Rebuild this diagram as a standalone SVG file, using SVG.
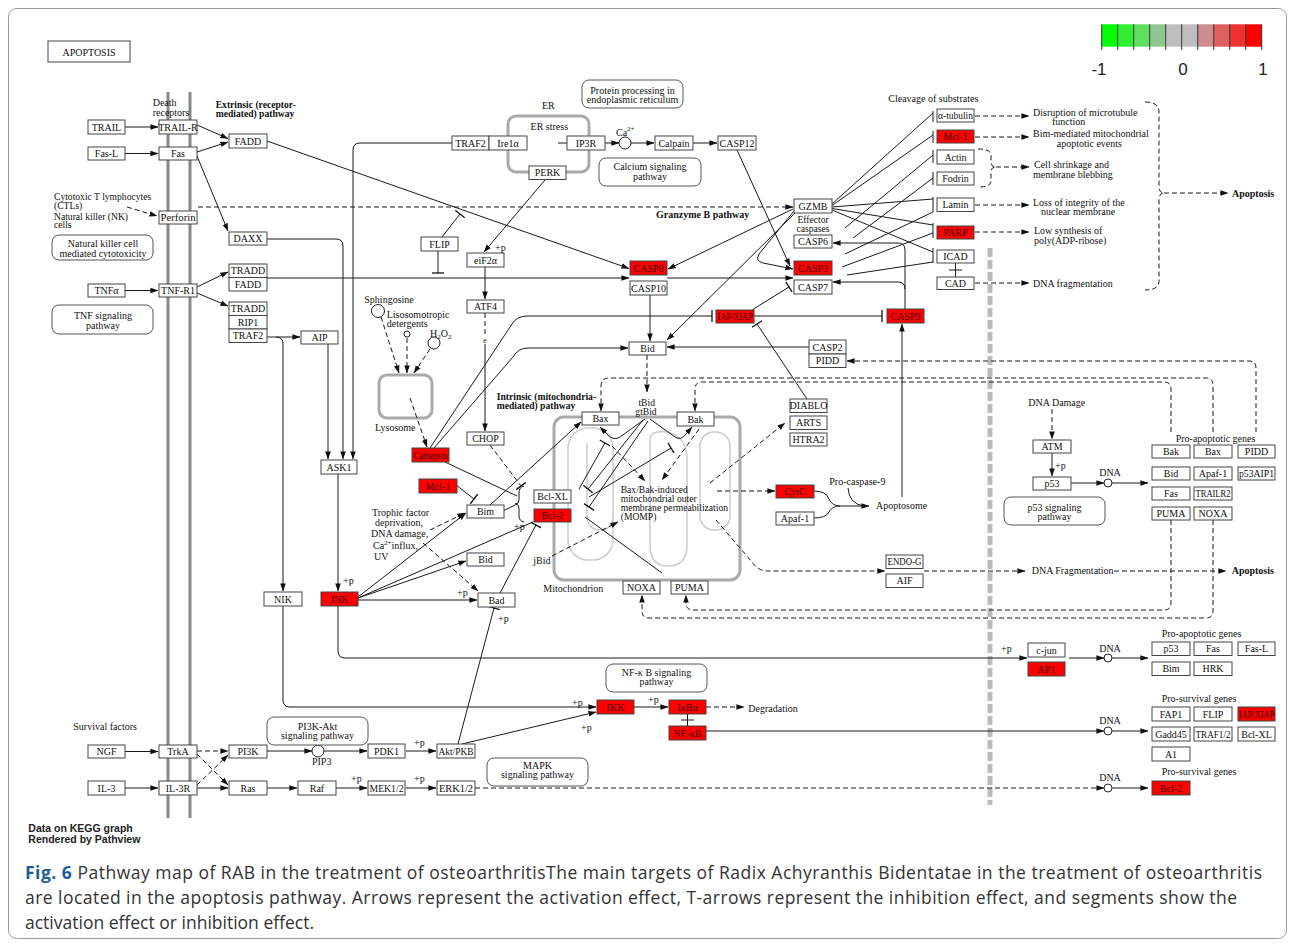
<svg xmlns="http://www.w3.org/2000/svg" width="1295" height="945" viewBox="0 0 1295 945">
<defs>
<marker id="ar" viewBox="0 0 10 10" refX="9.5" refY="5" markerWidth="8" markerHeight="8" markerUnits="userSpaceOnUse" orient="auto"><path d="M0,1.5 L10,5 L0,8.5z" fill="#111"/></marker>
<marker id="tb" viewBox="0 0 4 12" refX="2" refY="6" markerWidth="4" markerHeight="12" markerUnits="userSpaceOnUse" orient="auto"><path d="M2,0 V12" stroke="#111" stroke-width="1.3"/></marker>
</defs>
<style>
.n rect{fill:#fff;stroke:#444;stroke-width:1}
.n.r rect{fill:#ff0000}
.n text,.lb,.pw text{font-family:"Liberation Serif","Times New Roman",serif;font-size:10px;fill:#111}
.n text,.pw text,.mid{text-anchor:middle}
.n.r text{fill:#3a0000}
.c path{fill:none;stroke:#1a1a1a;stroke-width:1}
.c path.d{stroke-dasharray:5,3}
.c path.a{marker-end:url(#ar)}
.c path.t{marker-end:url(#tb)}
.pw rect{fill:#fff;stroke:#555;stroke-width:1}
.b{font-weight:bold}
.sm{font-size:9.6px}
.gr{fill:none;stroke:#aaa;stroke-width:3}
.ci{fill:#fff;stroke:#222;stroke-width:1}
.cap{font-family:"Open Sans","Noto Sans",sans-serif;font-size:17.5px;fill:#333}
</style>
<rect x="0" y="0" width="1295" height="945" fill="#fff"/>
<rect x="8.5" y="8.5" width="1278" height="930" rx="8" fill="none" stroke="#999"/>

<g id="compartments">
<line x1="168" y1="92" x2="168" y2="818" stroke="#888" stroke-width="3"/>
<line x1="190" y1="92" x2="190" y2="818" stroke="#888" stroke-width="3"/>
<line x1="990" y1="248" x2="990" y2="805" stroke="#bbb" stroke-width="5" stroke-dasharray="9,3"/>
<rect class="gr" x="508" y="116" width="81" height="56" rx="8"/>
<rect class="gr" x="379" y="375" width="53" height="43" rx="8"/>
<rect class="gr" x="554" y="417" width="186" height="163" rx="10"/>
<g fill="none" stroke="#ccc" stroke-width="1.5">
<rect x="568" y="428" width="45" height="132" rx="20"/>
<path d="M587,443V515Q587,530 600,530Q613,530 613,515"/>
<path d="M650,440Q650,430 667,432Q687,436 687,460V545Q687,566 668,566Q650,566 650,545Z"/>
<rect x="700" y="432" width="30" height="98" rx="14"/>
</g>
</g>

<g id="connectors" class="c">
<path class="a" d="M125,127H158"/>
<path class="a" d="M125,153.5H158"/>
<path class="a" d="M125,290.5H158"/>
<path class="a" d="M125,751.5H158"/>
<path class="a" d="M125,788H158"/>
<path class="a" d="M197,125L228,138.5"/>
<path class="a" d="M197,152L228,142"/>
<path class="a" d="M197,156L228,231"/>
<path class="d a" d="M127,207L157,216"/>
<path class="d a" d="M198,207H793"/>
<path class="a" d="M197,287L228,272"/>
<path class="a" d="M197,293L228,306"/>
<path class="a" d="M267,141L629,268.5"/>
<path class="a" d="M267,278H629"/>
<path class="a" d="M267,239H336Q343,239 343,246V459"/>
<path class="a" d="M452,143H360Q353,143 353,150V459"/>
<path class="a" d="M267,337H300"/>
<path class="a" d="M276,337Q283,337 283,344V591"/>
<path class="a" d="M328,344V459"/>
<path class="a" d="M338,474V591"/>
<path class="a" d="M283,606V700Q283,707 290,707H596"/>
<path class="a" d="M338,606V651Q338,658 345,658H1027"/>
<path class="a" d="M358,600H477"/>
<path class="a" d="M358,597L466,513"/>
<path class="a" d="M358,598L466,561"/>
<path d="M358,598L533,522"/>
<path class="d a" d="M430,530L465,513"/>
<path class="d a" d="M423,543L478,591"/>
<path class="t" d="M500,593L536,525"/>
<path class="t" d="M458,744L494,608"/>
<path class="a" d="M462,744L596,712"/>
<path class="a" d="M634,707H668"/>
<path class="d a" d="M706,707H744"/>
<path d="M687.5,714V726M681,720H694"/>
<path class="a" d="M706,731H1104"/>
<path class="a" d="M1112,731H1148"/>
<path class="d a" d="M197,751H228"/>
<path class="d a" d="M197,754L228,785"/>
<path class="d a" d="M197,785L228,755"/>
<path class="a" d="M197,788H228"/>
<path class="a" d="M267,751H312"/>
<path class="a" d="M324,751H367"/>
<path class="a" d="M406,751H436"/>
<path class="a" d="M267,788H297"/>
<path class="a" d="M336,788H367"/>
<path class="a" d="M406,788H436"/>
<path class="d a" d="M475,788H1104"/>
<path class="a" d="M1112,788H1148"/>
<path class="a" d="M1069,658H1104"/>
<path class="a" d="M1112,658H1148"/>
<path class="a" d="M1071,483H1104"/>
<path class="a" d="M1112,483H1148"/>
<path class="d a" d="M1052,409V439"/>
<path class="a" d="M1052,453V476"/>
<path d="M558,143H567"/>
<path class="a" d="M605,143H619"/>
<path class="a" d="M631,143H654"/>
<path class="a" d="M693,143H717"/>
<path class="a" d="M737,150L790,266"/>
<path class="a" d="M545,180L484,252"/>
<path class="t" d="M442,237L460,214"/>
<path class="t" d="M438,251V273"/>
<path class="a" d="M485,267V299"/>
<path class="d" d="M485,313V336"/>
<path class="a" d="M485,344V431"/>
<path class="d t" d="M490,445L521,486"/>
<path class="d a" d="M381,317L399,373"/>
<path class="d a" d="M407,338V373"/>
<path class="d a" d="M430,349L414,373"/>
<path class="d a" d="M410,398L427,447"/>
<path class="t" d="M430,448L512,324Q517,316 527,316H712"/>
<path class="a" d="M434,448L513,357Q518,348 528,348H628"/>
<path d="M445,462L517,496"/>
<path d="M503,511L515,505"/>
<path d="M524,486Q519,487 519,493V500Q519,504 515,504Q519,504 519,508V516Q519,521 524,522"/>
<path class="a" d="M490,505L581,422"/>
<path class="t" d="M456,485L474,499"/>
<path class="a" d="M650,295V341"/>
<path class="a" d="M667,278H793"/>
<path class="a" d="M793,209L668,269"/>
<path class="a" d="M794,211L759,254Q755,261 763,263L793,269"/>
<path class="a" d="M795,213L667,340"/>
<path class="a" d="M905,309V250Q905,243 898,243H833"/>
<path class="a" d="M905,289Q905,282 898,282H833"/>
<path class="a" d="M902,497V324"/>
<path class="t" d="M754,316H882"/>
<path class="t" d="M752,310L789,287"/>
<path class="t" d="M807,399L757,324"/>
<path class="a" d="M809,347H667"/>
<path class="d a" d="M1256,432V368Q1256,361 1249,361H847"/>
<path class="d a" d="M1213,432V385Q1213,378 1206,378H609Q601,378 601,386V411"/>
<path class="d a" d="M1171,432V389Q1171,382 1164,382H702Q695,382 695,389V411"/>
<path class="d a" d="M1171,520V603Q1171,610 1164,610H693Q686,610 686,603V595"/>
<path class="d a" d="M1213,520V611Q1213,618 1206,618H649Q642,618 642,611V595"/>
<path class="d a" d="M647,355V392"/>
<path class="a" d="M645,419L620,437Q614,441 608,435L600,427"/>
<path class="a" d="M650,419L675,437Q681,441 686,434L692,427"/>
<path class="t" d="M643,420L588,489"/>
<path class="t" d="M648,421L589,507"/>
<path class="t" d="M579,489L605,443"/>
<path class="t" d="M589,497L671,448"/>
<path class="d a" d="M612,446L645,481"/>
<path class="d a" d="M699,429L662,480"/>
<path class="d a" d="M552,556L618,522"/>
<path d="M585,517L662,573"/>
<path class="d a" d="M710,483L785,423"/>
<path class="d a" d="M717,491H775"/>
<path class="d a" d="M716,520L752,562Q758,571 768,571H885"/>
<path class="d a" d="M924,571H1025"/>
<path class="d a" d="M1114,571H1226"/>
<path class="a" d="M814,491Q826,491 829,499Q832,506 840,506H869"/>
<path d="M814,518Q826,518 829,512Q832,506 840,506"/>
<path d="M848,488Q849,504 864,506"/>
<path d="M832,204L933,113M832,205.5L933,135M845,228L933,155M853,238L933,178M832,207L933,199M845,254L933,212M832,208.5L933,225M832,210L933,252M842,267L933,233M847,275L933,262"/>
<path stroke-width="1.3" d="M933,111V122M933,131V143M933,150V163M933,172V185M933,197V212M933,223V238M933,248V263"/>
<path d="M955.5,263V277M949,270H962"/>
<path class="d a" d="M975,116H1029"/>
<path class="d a" d="M975,137H1029"/>
<path class="d" d="M978,149Q991,149 991,155V162Q991,167 996,167Q991,167 991,172V181Q991,187 978,187"/>
<path class="d a" d="M996,167H1029"/>
<path class="d a" d="M975,205H1029"/>
<path class="d a" d="M975,232H1029"/>
<path class="d a" d="M975,283H1029"/>
<path class="d" d="M1145,102Q1159,102 1159,112V186Q1159,193 1164,193Q1159,193 1159,200V281Q1159,290 1145,290"/>
<path class="d a" d="M1164,193H1228"/>
<circle class="ci" cx="1108" cy="483" r="4"/>
<circle class="ci" cx="1108" cy="658" r="4"/>
<circle class="ci" cx="1108" cy="731" r="4"/>
<circle class="ci" cx="1108" cy="788" r="4"/>
<circle class="ci" cx="318" cy="751" r="6"/>
<circle class="ci" cx="625" cy="143" r="6"/>
<circle class="ci" cx="378" cy="311" r="6.5"/>
<circle class="ci" cx="407" cy="334" r="3"/>
<circle class="ci" cx="434" cy="343" r="6"/>
</g>

<g id="pathways" class="pw">
<g id="pw_nk"><rect x="52" y="235" width="101" height="25" rx="7"/><text x="103" y="247">Natural killer cell</text><text x="103" y="256.5">mediated cytotoxicity</text></g>
<g id="pw_tnf"><rect x="52" y="305" width="101" height="29" rx="7"/><text x="103" y="319">TNF signaling</text><text x="103" y="328.5">pathway</text></g>
<g id="pw_er"><rect x="582" y="80" width="101" height="28" rx="7"/><text x="632.5" y="94">Protein processing in</text><text x="632.5" y="102.5">endoplasmic reticulum</text></g>
<g id="pw_ca"><rect x="599" y="158" width="102" height="28" rx="7"/><text x="650" y="170">Calcium signaling</text><text x="650" y="179.5">pathway</text></g>
<g id="pw_p53"><rect x="1004" y="497" width="101" height="28" rx="7"/><text x="1054.5" y="511">p53 signaling</text><text x="1054.5" y="520">pathway</text></g>
<g id="pw_nfkb"><rect x="606" y="664" width="101" height="28" rx="7"/><text x="656.5" y="676">NF-κ B signaling</text><text x="656.5" y="685">pathway</text></g>
<g id="pw_pi3k"><rect x="267" y="717" width="101" height="28" rx="7"/><text x="317.5" y="729.5">PI3K-Akt</text><text x="317.5" y="738.5">signaling pathway</text></g>
<g id="pw_mapk"><rect x="487" y="758" width="101" height="28" rx="7"/><text x="537.5" y="768.5">MAPK</text><text x="537.5" y="778">signaling pathway</text></g>
</g>

<g id="nodes">
<g id="APOPTOSIS" class="n"><rect x="48" y="41" width="82" height="21" stroke-width="1.5"/><text x="89" y="55.5">APOPTOSIS</text></g>
<g id="TRAIL" class="n"><rect x="88" y="120" width="37" height="14"/><text x="106.5" y="130.5">TRAIL</text></g>
<g id="TRAIL-R" class="n"><rect x="159" y="120" width="38" height="14"/><text x="178" y="130.5">TRAIL-R</text></g>
<g id="FADD_1" class="n"><rect x="229" y="134" width="38" height="14"/><text x="248" y="144.5">FADD</text></g>
<g id="Fas-L" class="n"><rect x="88" y="147" width="37" height="13"/><text x="106.5" y="157">Fas-L</text></g>
<g id="Fas" class="n"><rect x="159" y="147" width="38" height="13"/><text x="178" y="157">Fas</text></g>
<g id="Perforin" class="n"><rect x="159" y="211" width="38" height="13"/><text x="178" y="221" textLength="35" lengthAdjust="spacingAndGlyphs">Perforin</text></g>
<g id="DAXX" class="n"><rect x="229" y="232" width="38" height="13"/><text x="248" y="242">DAXX</text></g>
<g id="TRADD_FADD" class="n"><rect x="229" y="264" width="38" height="13.5"/><text x="248" y="274.2">TRADD</text><rect x="229" y="277.5" width="38" height="13.5"/><text x="248" y="287.7">FADD</text></g>
<g id="TNFa" class="n"><rect x="88" y="284" width="37" height="13"/><text x="106.5" y="294">TNFα</text></g>
<g id="TNF-R1" class="n"><rect x="159" y="284" width="38" height="13"/><text x="178" y="294">TNF-R1</text></g>
<g id="TRADD_RIP1_TRAF2" class="n"><rect x="229" y="302" width="38" height="13.5"/><text x="248" y="312.2">TRADD</text><rect x="229" y="315.5" width="38" height="13.5"/><text x="248" y="325.7">RIP1</text><rect x="229" y="329" width="38" height="13.5"/><text x="248" y="339.2">TRAF2</text></g>
<g id="AIP" class="n"><rect x="301" y="331" width="37" height="13"/><text x="319.5" y="341">AIP</text></g>
<g id="ASK1" class="n"><rect x="321" y="460" width="36" height="14"/><text x="339" y="470.5">ASK1</text></g>
<g id="NIK" class="n"><rect x="264" y="592" width="38" height="14"/><text x="283" y="602.5">NIK</text></g>
<g id="JNK" class="n r"><rect x="321" y="592" width="37" height="14"/><text x="339.5" y="602.5">JNK</text></g>
<g id="TRAF2_Ire1a" class="n"><rect x="452" y="136" width="37" height="14"/><text x="470.5" y="146.5">TRAF2</text><rect x="489" y="136" width="38" height="14"/><text x="508" y="146.5">Ire1α</text></g>
<g id="IP3R" class="n"><rect x="567" y="136" width="38" height="14"/><text x="586" y="146.5">IP3R</text></g>
<g id="Calpain" class="n"><rect x="655" y="136" width="38" height="14"/><text x="674" y="146.5">Calpain</text></g>
<g id="CASP12" class="n"><rect x="718" y="136" width="38" height="14"/><text x="737" y="146.5">CASP12</text></g>
<g id="PERK" class="n"><rect x="529" y="166" width="37" height="13.5"/><text x="547.5" y="176.2">PERK</text></g>
<g id="FLIP" class="n"><rect x="421" y="237" width="37" height="14"/><text x="439.5" y="247.5">FLIP</text></g>
<g id="eiF2a" class="n"><rect x="467" y="253" width="37" height="14"/><text x="485.5" y="263.5">eiF2α</text></g>
<g id="ATF4" class="n"><rect x="467" y="300" width="37" height="13"/><text x="485.5" y="310">ATF4</text></g>
<g id="CHOP" class="n"><rect x="467" y="432" width="37" height="13"/><text x="485.5" y="442">CHOP</text></g>
<g id="CASP8" class="n r"><rect x="630" y="261" width="37" height="14"/><text x="648.5" y="271.5">CASP8</text></g>
<g id="CASP10" class="n"><rect x="630" y="281" width="37" height="14"/><text x="648.5" y="291.5">CASP10</text></g>
<g id="GZMB" class="n"><rect x="794" y="199" width="38" height="14"/><text x="813" y="209.5">GZMB</text></g>
<g id="CASP6" class="n"><rect x="794" y="235" width="38" height="13"/><text x="813" y="245">CASP6</text></g>
<g id="CASP3" class="n r"><rect x="794" y="261" width="38" height="14"/><text x="813" y="271.5">CASP3</text></g>
<g id="CASP7" class="n"><rect x="794" y="280" width="38" height="14"/><text x="813" y="290.5">CASP7</text></g>
<g id="IAP_XIAP" class="n r"><rect x="716" y="310" width="38" height="13"/><text x="735" y="320" textLength="35" lengthAdjust="spacingAndGlyphs">IAP/XIAP</text></g>
<g id="CASP9" class="n r"><rect x="887" y="309" width="37" height="14"/><text x="905.5" y="319.5">CASP9</text></g>
<g id="Bid_1" class="n"><rect x="629" y="342" width="37" height="13"/><text x="647.5" y="352">Bid</text></g>
<g id="CASP2_PIDD" class="n"><rect x="809" y="340" width="37" height="14"/><text x="827.5" y="350.5">CASP2</text><rect x="809" y="354" width="37" height="13.5"/><text x="827.5" y="364.2">PIDD</text></g>
<g id="Cathepsin" class="n r"><rect x="412" y="448" width="37" height="14"/><text x="430.5" y="458.5" textLength="34" lengthAdjust="spacingAndGlyphs">Cathepsin</text></g>
<g id="Mcl-1_1" class="n r"><rect x="419" y="479" width="38" height="14"/><text x="438" y="489.5">Mcl-1</text></g>
<g id="Bim_1" class="n"><rect x="467" y="505" width="37" height="13"/><text x="485.5" y="515">Bim</text></g>
<g id="Bcl-XL_1" class="n"><rect x="534" y="490" width="37" height="13"/><text x="552.5" y="500">Bcl-XL</text></g>
<g id="Bcl-2_1" class="n r"><rect x="534" y="509" width="37" height="13"/><text x="552.5" y="519">Bcl-2</text></g>
<g id="Bid_2" class="n"><rect x="467" y="553" width="37" height="13"/><text x="485.5" y="563">Bid</text></g>
<g id="Bad" class="n"><rect x="478" y="593" width="37" height="14"/><text x="496.5" y="603.5">Bad</text></g>
<g id="Bax_1" class="n"><rect x="582" y="412" width="37" height="13"/><text x="600.5" y="422">Bax</text></g>
<g id="Bak_1" class="n"><rect x="677" y="412" width="37" height="14"/><text x="695.5" y="422.5">Bak</text></g>
<g id="DIABLO" class="n"><rect x="790" y="399" width="37" height="13.5"/><text x="808.5" y="409.2">DIABLO</text></g>
<g id="ARTS" class="n"><rect x="790" y="416" width="37" height="13.5"/><text x="808.5" y="426.2">ARTS</text></g>
<g id="HTRA2" class="n"><rect x="790" y="433" width="37" height="13"/><text x="808.5" y="443">HTRA2</text></g>
<g id="CytC" class="n r"><rect x="776" y="485" width="38" height="13"/><text x="795" y="495">CytC</text></g>
<g id="Apaf-1_1" class="n"><rect x="776" y="512" width="38" height="13"/><text x="795" y="522">Apaf-1</text></g>
<g id="NOXA_1" class="n"><rect x="623" y="581" width="37" height="13"/><text x="641.5" y="591">NOXA</text></g>
<g id="PUMA_1" class="n"><rect x="671" y="581" width="37" height="13"/><text x="689.5" y="591">PUMA</text></g>
<g id="ENDO-G" class="n"><rect x="886" y="555" width="37" height="13.5"/><text x="904.5" y="565.2" textLength="34" lengthAdjust="spacingAndGlyphs">ENDO-G</text></g>
<g id="AIF" class="n"><rect x="886" y="574" width="37" height="13.5"/><text x="904.5" y="584.2">AIF</text></g>
<g id="a-tubulin" class="n"><rect x="937" y="109" width="37" height="13"/><text x="955.5" y="119" textLength="35" lengthAdjust="spacingAndGlyphs">α-tubulin</text></g>
<g id="Mcl-1_2" class="n r"><rect x="937" y="130" width="37" height="13"/><text x="955.5" y="140">Mcl-1</text></g>
<g id="Actin" class="n"><rect x="937" y="150" width="37" height="14"/><text x="955.5" y="160.5">Actin</text></g>
<g id="Fodrin" class="n"><rect x="937" y="172" width="37" height="13"/><text x="955.5" y="182">Fodrin</text></g>
<g id="Lamin" class="n"><rect x="937" y="198" width="37" height="13.5"/><text x="955.5" y="208.2">Lamin</text></g>
<g id="PARP" class="n r"><rect x="937" y="226" width="37" height="13"/><text x="955.5" y="236">PARP</text></g>
<g id="ICAD" class="n"><rect x="937" y="250" width="37" height="13"/><text x="955.5" y="260">ICAD</text></g>
<g id="CAD" class="n"><rect x="937" y="277" width="37" height="12.5"/><text x="955.5" y="286.7">CAD</text></g>
<g id="ATM" class="n"><rect x="1033" y="440" width="38" height="13"/><text x="1052" y="450">ATM</text></g>
<g id="p53_1" class="n"><rect x="1033" y="477" width="38" height="13"/><text x="1052" y="487">p53</text></g>
<g id="Bak_2" class="n"><rect x="1152" y="445" width="38" height="13"/><text x="1171" y="455">Bak</text></g>
<g id="Bax_2" class="n"><rect x="1194" y="445" width="38" height="13"/><text x="1213" y="455">Bax</text></g>
<g id="PIDD_2" class="n"><rect x="1238" y="445" width="37" height="13"/><text x="1256.5" y="455">PIDD</text></g>
<g id="Bid_3" class="n"><rect x="1152" y="467" width="38" height="13"/><text x="1171" y="477">Bid</text></g>
<g id="Apaf-1_2" class="n"><rect x="1194" y="467" width="38" height="13"/><text x="1213" y="477">Apaf-1</text></g>
<g id="p53AIP1" class="n"><rect x="1238" y="467" width="37" height="13"/><text x="1256.5" y="477" textLength="35" lengthAdjust="spacingAndGlyphs">p53AIP1</text></g>
<g id="Fas_2" class="n"><rect x="1152" y="487" width="38" height="13"/><text x="1171" y="497">Fas</text></g>
<g id="TRAILR2" class="n"><rect x="1194" y="487" width="38" height="13"/><text x="1213" y="497" textLength="35" lengthAdjust="spacingAndGlyphs">TRAILR2</text></g>
<g id="PUMA_2" class="n"><rect x="1152" y="507" width="38" height="13"/><text x="1171" y="517">PUMA</text></g>
<g id="NOXA_2" class="n"><rect x="1194" y="507" width="38" height="13"/><text x="1213" y="517">NOXA</text></g>
<g id="c-jun" class="n"><rect x="1028" y="643" width="37" height="14"/><text x="1046.5" y="653.5">c-jun</text></g>
<g id="AP1" class="n r"><rect x="1028" y="662" width="37" height="14"/><text x="1046.5" y="672.5">AP1</text></g>
<g id="p53_2" class="n"><rect x="1152" y="642" width="38" height="13.5"/><text x="1171" y="652.2">p53</text></g>
<g id="Fas_3" class="n"><rect x="1194" y="642" width="38" height="13.5"/><text x="1213" y="652.2">Fas</text></g>
<g id="Fas-L_2" class="n"><rect x="1238" y="642" width="37" height="13.5"/><text x="1256.5" y="652.2">Fas-L</text></g>
<g id="Bim_2" class="n"><rect x="1152" y="662" width="38" height="13.5"/><text x="1171" y="672.2">Bim</text></g>
<g id="HRK" class="n"><rect x="1194" y="662" width="38" height="13.5"/><text x="1213" y="672.2">HRK</text></g>
<g id="IKK" class="n r"><rect x="597" y="700" width="37" height="14"/><text x="615.5" y="710.5">IKK</text></g>
<g id="IkBa" class="n r"><rect x="669" y="700" width="37" height="14"/><text x="687.5" y="710.5">IκBα</text></g>
<g id="NF-kB" class="n r"><rect x="669" y="726" width="37" height="14"/><text x="687.5" y="736.5">NF-κB</text></g>
<g id="FAP1" class="n"><rect x="1152" y="707" width="38" height="14"/><text x="1171" y="717.5">FAP1</text></g>
<g id="FLIP_2" class="n"><rect x="1194" y="707" width="38" height="14"/><text x="1213" y="717.5">FLIP</text></g>
<g id="IAP_XIAP_2" class="n r"><rect x="1238" y="707" width="37" height="14"/><text x="1256.5" y="717.5" textLength="35" lengthAdjust="spacingAndGlyphs">IAP/XIAP</text></g>
<g id="Gadd45" class="n"><rect x="1152" y="727" width="38" height="14"/><text x="1171" y="737.5">Gadd45</text></g>
<g id="TRAF1_2" class="n"><rect x="1194" y="727" width="38" height="14"/><text x="1213" y="737.5" textLength="35" lengthAdjust="spacingAndGlyphs">TRAF1/2</text></g>
<g id="Bcl-XL_2" class="n"><rect x="1238" y="727" width="37" height="14"/><text x="1256.5" y="737.5">Bcl-XL</text></g>
<g id="A1" class="n"><rect x="1152" y="747" width="38" height="14"/><text x="1171" y="757.5">A1</text></g>
<g id="Bcl-2_2" class="n r"><rect x="1152" y="781" width="38" height="14"/><text x="1171" y="791.5">Bcl-2</text></g>
<g id="NGF" class="n"><rect x="88" y="745" width="37" height="13"/><text x="106.5" y="755">NGF</text></g>
<g id="TrkA" class="n"><rect x="159" y="745" width="38" height="13"/><text x="178" y="755">TrkA</text></g>
<g id="PI3K" class="n"><rect x="229" y="745" width="38" height="13"/><text x="248" y="755">PI3K</text></g>
<g id="IL-3" class="n"><rect x="88" y="781" width="37" height="14"/><text x="106.5" y="791.5">IL-3</text></g>
<g id="IL-3R" class="n"><rect x="159" y="781" width="38" height="14"/><text x="178" y="791.5">IL-3R</text></g>
<g id="Ras" class="n"><rect x="229" y="781" width="38" height="14"/><text x="248" y="791.5">Ras</text></g>
<g id="Raf" class="n"><rect x="298" y="781" width="38" height="14"/><text x="317" y="791.5">Raf</text></g>
<g id="PDK1" class="n"><rect x="368" y="744" width="37" height="14"/><text x="386.5" y="754.5">PDK1</text></g>
<g id="Akt_PKB" class="n"><rect x="437" y="744" width="38" height="14"/><text x="456" y="754.5" textLength="35" lengthAdjust="spacingAndGlyphs">Akt/PKB</text></g>
<g id="MEK1_2" class="n"><rect x="368" y="781" width="37" height="14"/><text x="386.5" y="791.5" textLength="34" lengthAdjust="spacingAndGlyphs">MEK1/2</text></g>
<g id="ERK1_2" class="n"><rect x="437" y="781" width="38" height="14"/><text x="456" y="791.5" textLength="34" lengthAdjust="spacingAndGlyphs">ERK1/2</text></g>
</g>

<g id="labels" class="lb">
<text x="152.7" y="105.7">Death</text>
<text x="152.7" y="115.7">receptors</text>
<text x="215.7" y="107.7" class="b sm">Extrinsic (receptor-</text>
<text x="215.7" y="117" class="b sm">mediated) pathway</text>
<text x="54" y="200" class="sm">Cytotoxic T lymphocytes</text>
<text x="54" y="208.8" class="sm">(CTLs)</text>
<text x="54" y="219.6" class="sm">Natural killer (NK)</text>
<text x="54" y="228.4" class="sm">cells</text>
<text x="542" y="109">ER</text>
<text x="549.3" y="130" class="mid">ER stress</text>
<text x="616" y="136">Ca<tspan font-size="7" dy="-5">2+</tspan></text>
<text x="495" y="251">+p</text>
<text x="656" y="218.3" class="b">Granzyme B pathway</text>
<text x="813" y="223" class="mid sm">Effector</text>
<text x="813" y="231.8" class="mid sm">caspases</text>
<text x="888.3" y="102.3">Cleavage of substrates</text>
<text x="364.3" y="303.3">Sphingosine</text>
<text x="386.7" y="318.3">Lisosomotropic</text>
<text x="386.7" y="327.3">detergents</text>
<text x="430" y="336.7">H<tspan font-size="7" dy="2">2</tspan><tspan dy="-2">O</tspan><tspan font-size="7" dy="2">2</tspan></text>
<text x="375" y="430.5">Lysosome</text>
<text x="485" y="343" class="mid" font-size="8">e</text>
<text x="496.7" y="399.5" class="b sm">Intrinsic (mitochondria-</text>
<text x="496.7" y="408.5" class="b sm">mediated) pathway</text>
<text x="646.7" y="406" class="mid sm">tBid</text>
<text x="646" y="414.8" class="mid sm">gtBid</text>
<text x="620.7" y="493.3" class="sm">Bax/Bak-induced</text>
<text x="620.7" y="502.3" class="sm">mitochondrial outer</text>
<text x="620.7" y="511.3" class="sm">membrane  permeabilization</text>
<text x="620.7" y="520.3" class="sm">(MOMP)</text>
<text x="829.3" y="485">Pro-caspase-9</text>
<text x="876" y="509">Apoptosome</text>
<text x="400.5" y="515.5" class="mid">Trophic factor</text>
<text x="399" y="525.5" class="mid">deprivation,</text>
<text x="371" y="536.5">DNA damage,</text>
<text x="373" y="548.5">Ca<tspan font-size="7" dy="-4">2+</tspan><tspan dy="4">influx,</tspan></text>
<text x="374" y="559.5">UV</text>
<text x="533.3" y="563.5">jBid</text>
<text x="343" y="584">+p</text>
<text x="514" y="530">+p</text>
<text x="457" y="596">+p</text>
<text x="498" y="622">+p</text>
<text x="543.3" y="591.7">Mitochondrion</text>
<text x="572" y="706">+p</text>
<text x="581" y="731">+p</text>
<text x="648" y="703">+p</text>
<text x="748.3" y="711.7">Degradation</text>
<text x="414" y="746">+p</text>
<text x="351" y="782">+p</text>
<text x="414" y="782">+p</text>
<text x="321.7" y="765" class="mid">PIP3</text>
<text x="73.3" y="730">Survival factors</text>
<text x="1028.3" y="405.7">DNA Damage</text>
<text x="1055" y="469">+p</text>
<text x="1110" y="475.7" class="mid">DNA</text>
<text x="1175.7" y="442.3">Pro-apoptotic genes</text>
<text x="1031.7" y="574">DNA Fragmentation</text>
<text x="1231.7" y="574" class="b">Apoptosis</text>
<text x="1001" y="652">+p</text>
<text x="1110" y="652.3" class="mid">DNA</text>
<text x="1161.7" y="636.7">Pro-apoptotic genes</text>
<text x="1110" y="724.3" class="mid">DNA</text>
<text x="1161.7" y="701.7">Pro-survival genes</text>
<text x="1110" y="781" class="mid">DNA</text>
<text x="1161.7" y="775">Pro-survival genes</text>
<text x="1033" y="115.7">Disruption of microtubule</text>
<text x="1052" y="125">function</text>
<text x="1033" y="137.3">Bim-mediated mitochondrial</text>
<text x="1056.7" y="146.7">apoptotic events</text>
<text x="1034" y="168.3">Cell shrinkage and</text>
<text x="1033" y="177.7">membrane blebbing</text>
<text x="1033" y="205.5">Loss of integrity of the</text>
<text x="1041" y="214.5">nuclear membrane</text>
<text x="1034" y="234.3">Low synthesis of</text>
<text x="1034" y="243.7">poly(ADP-ribose)</text>
<text x="1033" y="286.7">DNA fragmentation</text>
<text x="1232" y="197" class="b">Apoptosis</text>
</g>

<g id="legend">
<rect x="1101.7" y="24.3" width="16" height="22.4" fill="#00ff00"/>
<rect x="1117.7" y="24.3" width="16" height="22.4" fill="#30ee30"/>
<rect x="1133.7" y="24.3" width="16" height="22.4" fill="#5ee05e"/>
<rect x="1149.7" y="24.3" width="16" height="22.4" fill="#8ec88e"/>
<rect x="1165.7" y="24.3" width="16" height="22.4" fill="#bebebe"/>
<rect x="1181.7" y="24.3" width="16" height="22.4" fill="#bebebe"/>
<rect x="1197.7" y="24.3" width="16" height="22.4" fill="#cf8c8c"/>
<rect x="1213.7" y="24.3" width="16" height="22.4" fill="#df5f5f"/>
<rect x="1229.7" y="24.3" width="16" height="22.4" fill="#ef3030"/>
<rect x="1245.7" y="24.3" width="16" height="22.4" fill="#ff0000"/>
<path d="M1101.7,24.3V50M1117.7,24.3V50M1133.7,24.3V50M1149.7,24.3V50M1165.7,24.3V50M1181.7,24.3V50M1197.7,24.3V50M1213.7,24.3V50M1229.7,24.3V50M1245.7,24.3V50M1261.7,24.3V50" stroke="#333" stroke-width="1"/>
<g font-family="Liberation Sans, Arial, sans-serif" font-size="17" fill="#222" text-anchor="middle">
<text x="1099" y="75">-1</text><text x="1183" y="75">0</text><text x="1263" y="75">1</text>
</g>
</g>

<g id="credits" font-family="Liberation Sans, Arial, sans-serif" font-size="10.5" font-weight="bold" fill="#222">
<text x="28.3" y="831.7">Data on KEGG graph</text>
<text x="28.3" y="843.3">Rendered by Pathview</text>
</g>

<g id="caption" class="cap">
<text x="25" y="879" textLength="1237" lengthAdjust="spacing"><tspan font-weight="bold" fill="#1d5c99">Fig. 6</tspan> Pathway map of RAB in the treatment of osteoarthritisThe main targets of Radix Achyranthis Bidentatae in the treatment of osteoarthritis</text>
<text x="25" y="904" textLength="1212" lengthAdjust="spacing">are located in the apoptosis pathway. Arrows represent the activation effect, T-arrows represent the inhibition effect, and segments show the</text>
<text x="25" y="929">activation effect or inhibition effect.</text>
</g>
</svg>
